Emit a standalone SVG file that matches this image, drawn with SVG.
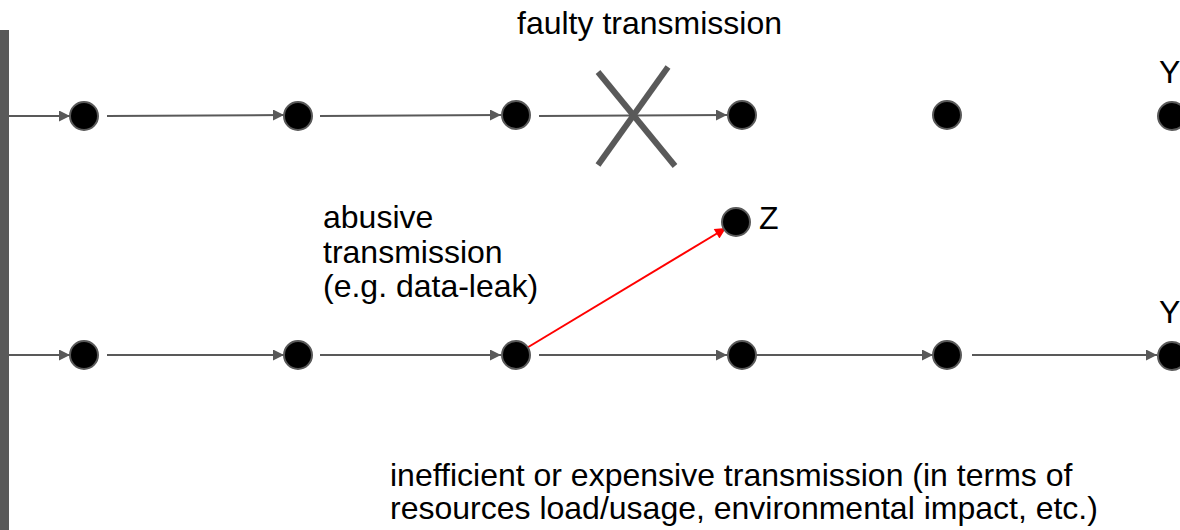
<svg xmlns="http://www.w3.org/2000/svg" width="1180" height="530" viewBox="0 0 1180 530">
  <style>
    .lbl { font-family: "Liberation Sans", Arial, sans-serif; font-size: 32px; fill: #000; }
    .node circle { fill: #000; stroke: #595959; stroke-width: 2; }
    .edge { stroke: #595959; stroke-width: 2; fill: none; marker-end: url(#arr); }
    .edge.red { stroke: #ff0000; marker-end: url(#arrRed); }
  </style>
  <defs>
    <marker id="arr" viewBox="0 0 10 10" refX="10" refY="5" markerWidth="7" markerHeight="5.5" markerUnits="strokeWidth" orient="auto">
      <path d="M0,0 L10,5 L0,10 z" fill="#595959"/>
    </marker>
    <marker id="arrRed" viewBox="0 0 10 10" refX="10" refY="5" markerWidth="7" markerHeight="5.5" markerUnits="strokeWidth" orient="auto">
      <path d="M0,0 L10,5 L0,10 z" fill="#ff0000"/>
    </marker>
  </defs>

  <rect id="source-bar" x="0" y="30" width="9" height="500" fill="#595959"/>

  <g id="connectors">
    <!-- upper chain -->
    <line class="edge" x1="9" y1="116" x2="70" y2="116"/>
    <line class="edge" x1="107" y1="116" x2="284" y2="115"/>
    <line class="edge" x1="320" y1="116" x2="501" y2="115"/>
    <line class="edge" x1="539" y1="116" x2="727" y2="115"/>
    <!-- lower chain -->
    <line class="edge" x1="9" y1="355" x2="70" y2="355"/>
    <line class="edge" x1="107" y1="355" x2="284" y2="355"/>
    <line class="edge" x1="320" y1="355" x2="501" y2="355"/>
    <line class="edge" x1="539" y1="355" x2="727" y2="355"/>
    <line class="edge" x1="755" y1="355" x2="933" y2="355"/>
    <line class="edge" x1="972" y1="355" x2="1157" y2="355"/>
    <!-- leak -->
    <line class="edge red" x1="525" y1="349" x2="726" y2="228"/>
  </g>

  <g id="fault-mark" stroke="#595959" stroke-width="6" stroke-linecap="butt">
    <line x1="598" y1="72" x2="675" y2="166"/>
    <line x1="668" y1="67" x2="598" y2="165"/>
  </g>

  <g id="n1a" class="node"><circle cx="84" cy="116" r="14"/></g>
  <g id="n2a" class="node"><circle cx="298" cy="116" r="14"/></g>
  <g id="n3a" class="node"><circle cx="516" cy="115" r="14"/></g>
  <g id="n4a" class="node"><circle cx="742" cy="115" r="14"/></g>
  <g id="n5a" class="node"><circle cx="947" cy="115" r="14"/></g>
  <g id="n6a" class="node"><circle cx="1172" cy="116" r="14"/></g>

  <g id="n1b" class="node"><circle cx="84" cy="355" r="14"/></g>
  <g id="n2b" class="node"><circle cx="298" cy="355" r="14"/></g>
  <g id="n3b" class="node"><circle cx="516" cy="355" r="14"/></g>
  <g id="n4b" class="node"><circle cx="742" cy="355" r="14"/></g>
  <g id="n5b" class="node"><circle cx="947" cy="355" r="14"/></g>
  <g id="n6b" class="node"><circle cx="1172" cy="356" r="14"/></g>

  <g id="nZ" class="node"><circle cx="736" cy="222" r="14"/></g>

  <g id="labels">
    <text class="lbl" x="517" y="34">faulty transmission</text>
    <text class="lbl" x="1159" y="83">Y</text>
    <text class="lbl" x="1159" y="323">Y</text>
    <text class="lbl" x="759" y="229">Z</text>
    <text class="lbl" x="323" y="228">abusive</text>
    <text class="lbl" x="323" y="263">transmission</text>
    <text class="lbl" x="323" y="297">(e.g. data-leak)</text>
    <text class="lbl" x="390" y="486">inefficient or expensive transmission (in terms of</text>
    <text class="lbl" x="390" y="519">resources load/usage, environmental impact, etc.)</text>
  </g>
</svg>
